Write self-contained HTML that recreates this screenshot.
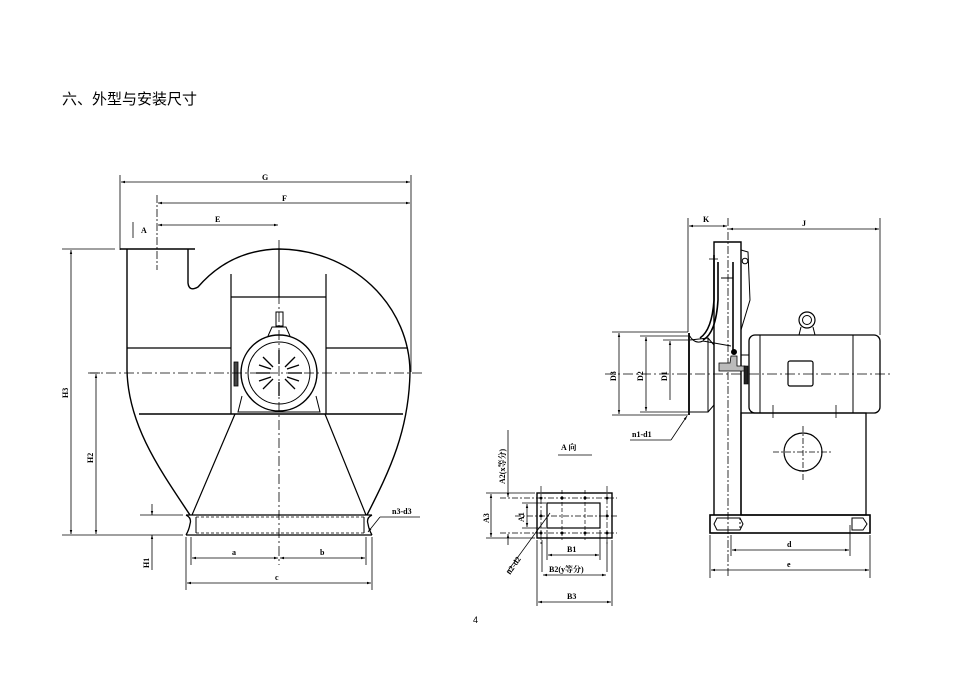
<!DOCTYPE html>
<html><head><meta charset="utf-8"><style>
html,body{margin:0;padding:0;background:#fff;}
svg{display:block}
text{font-family:"Liberation Serif","Noto Serif CJK SC",serif;font-weight:bold;font-size:8px;fill:#000}
.t{font-family:"Liberation Sans","Noto Sans CJK SC",sans-serif;font-weight:normal;font-size:15px}
</style></head><body>
<svg width="953" height="674" viewBox="0 0 953 674" xmlns="http://www.w3.org/2000/svg">
<defs>
<marker id="ar" viewBox="0 0 10 10" refX="10" refY="5" markerWidth="8" markerHeight="5" orient="auto-start-reverse"><path d="M0,2 L10,5 L0,8z" fill="#000"/></marker>
</defs>
<text class="t" x="62" y="104">六、外型与安装尺寸</text>
<text x="473" y="623" style="font-weight:normal;font-family:'Liberation Sans';font-size:9px">4</text>

<g stroke="#000" fill="none" stroke-width="1">
<!-- LEFT VIEW -->
<line x1="120" y1="175" x2="120" y2="250" stroke-width=".8"/>
<line x1="411" y1="175" x2="411" y2="372" stroke-width=".8"/>
<line x1="121" y1="182" x2="410" y2="182" marker-start="url(#ar)" marker-end="url(#ar)" stroke-width=".8"/>
<line x1="158" y1="203" x2="410" y2="203" marker-start="url(#ar)" marker-end="url(#ar)" stroke-width=".8"/>
<line x1="158" y1="225" x2="278" y2="225" marker-start="url(#ar)" marker-end="url(#ar)" stroke-width=".8"/>
<line x1="157" y1="195" x2="157" y2="270" stroke-dasharray="8,2,2,2" stroke-width=".8"/>
<line x1="133" y1="222" x2="133" y2="238" stroke-width=".8"/>
<line x1="120" y1="249" x2="195" y2="249" stroke-width="1.6"/>
<path d="M127,249 L127,370 C128,425 160,470 190,515" stroke-width="1.4"/>
<path d="M188,249 L188,283 Q189,292 198,287 Q230,250 279,249 A132,124 0 0 1 410,372 C409,430 390,470 367,515" stroke-width="1.4"/>
<line x1="279" y1="249" x2="279" y2="297" stroke-width="1.2"/>
<line x1="231" y1="274" x2="231" y2="414" stroke-width="1.2"/>
<line x1="326" y1="274" x2="326" y2="414" stroke-width="1.2"/>
<line x1="231" y1="297" x2="326" y2="297" stroke-width="1.2"/>
<line x1="127" y1="348" x2="231" y2="348" stroke-width="1.2"/>
<line x1="326" y1="348" x2="408" y2="348" stroke-width="1.2"/>
<line x1="139" y1="414" x2="403" y2="414" stroke-width="1.4"/>
<line x1="235" y1="414" x2="192" y2="515" stroke-width="1.2"/>
<line x1="325" y1="414" x2="366" y2="515" stroke-width="1.2"/>
<rect x="276" y="312" width="7" height="14"/>
<path d="M268,336 L272,327 L286,327 L290,336"/>
<circle cx="279" cy="373" r="38" stroke-width="1.4"/>
<circle cx="279" cy="373" r="31"/>
<path d="M242,396 L238,412 L320,412 L316,396"/>
<rect x="234" y="362" width="4" height="24" fill="#444" stroke-width=".8"/>
<g stroke-width="1.3">
<line x1="279" y1="350" x2="279" y2="364"/><line x1="279" y1="382" x2="279" y2="396"/>
<line x1="256" y1="373" x2="270" y2="373"/><line x1="288" y1="373" x2="302" y2="373"/>
<line x1="263" y1="357" x2="273" y2="367"/><line x1="285" y1="379" x2="295" y2="389"/>
<line x1="295" y1="357" x2="285" y2="367"/><line x1="273" y1="379" x2="263" y2="389"/>
<line x1="259" y1="365" x2="271" y2="369"/><line x1="287" y1="377" x2="299" y2="381"/>
<line x1="299" y1="365" x2="287" y2="369"/><line x1="271" y1="377" x2="259" y2="381"/>
</g>
<path d="M186,515 L372,515 M186,535 L372,535 M186,515 Q192,518 190,524 Q189,530 186,535 M372,515 Q366,518 368,524 Q369,530 372,535" stroke-width="1.3"/>
<line x1="196" y1="517" x2="196" y2="533"/><line x1="364" y1="517" x2="364" y2="533"/>
<line x1="196" y1="517" x2="364" y2="517" stroke-dasharray="3,2" stroke-width=".8"/>
<line x1="196" y1="533" x2="364" y2="533" stroke-dasharray="3,2" stroke-width=".8"/>
<line x1="88" y1="373" x2="425" y2="373" stroke-dasharray="10,3,2,3" stroke-width=".8"/>
<line x1="279" y1="240" x2="279" y2="565" stroke-dasharray="10,3,2,3" stroke-width=".8"/>
<line x1="62" y1="249" x2="115" y2="249" stroke-width=".8"/>
<line x1="62" y1="535" x2="183" y2="535" stroke-width=".8"/>
<line x1="90" y1="373" x2="100" y2="373" stroke-width=".8"/>
<line x1="140" y1="515" x2="183" y2="515" stroke-width=".8"/>
<line x1="71" y1="250" x2="71" y2="534" marker-start="url(#ar)" marker-end="url(#ar)" stroke-width=".8"/>
<line x1="96" y1="374" x2="96" y2="534" marker-start="url(#ar)" marker-end="url(#ar)" stroke-width=".8"/>
<line x1="152" y1="504" x2="152" y2="515" marker-end="url(#ar)" stroke-width=".8"/>
<line x1="152" y1="548" x2="152" y2="535" marker-end="url(#ar)" stroke-width=".8"/>
<line x1="152" y1="548" x2="152" y2="570" stroke-width=".8"/>
<line x1="186" y1="537" x2="186" y2="590" stroke-width=".8"/>
<line x1="191" y1="537" x2="191" y2="565" stroke-width=".8"/>
<line x1="366" y1="537" x2="366" y2="565" stroke-width=".8"/>
<line x1="372" y1="537" x2="372" y2="590" stroke-width=".8"/>
<line x1="192" y1="558" x2="278" y2="558" marker-start="url(#ar)" marker-end="url(#ar)" stroke-width=".8"/>
<line x1="280" y1="558" x2="365" y2="558" marker-start="url(#ar)" marker-end="url(#ar)" stroke-width=".8"/>
<line x1="187" y1="583" x2="371" y2="583" marker-start="url(#ar)" marker-end="url(#ar)" stroke-width=".8"/>
<line x1="420" y1="517" x2="380" y2="517" stroke-width=".8"/>
<line x1="380" y1="517" x2="368" y2="532" marker-end="url(#ar)" stroke-width=".8"/>

<!-- RIGHT VIEW -->
<line x1="688" y1="218" x2="688" y2="332" stroke-width=".8"/>
<line x1="880" y1="218" x2="880" y2="335" stroke-width=".8"/>
<line x1="689" y1="226" x2="727" y2="226" marker-start="url(#ar)" marker-end="url(#ar)" stroke-width=".8"/>
<line x1="729" y1="229" x2="879" y2="229" marker-start="url(#ar)" marker-end="url(#ar)" stroke-width=".8"/>
<line x1="728" y1="218" x2="728" y2="578" stroke-dasharray="8,2,2,2" stroke-width=".8"/>
<line x1="605" y1="374" x2="893" y2="374" stroke-dasharray="10,3,2,3" stroke-width=".8"/>
<path d="M714,515 L714,242 L741,242 L741,515" stroke-width="1.4"/>
<line x1="709" y1="259" x2="718" y2="259" stroke-width=".8"/>
<path d="M714,255 L714,300 Q712,330 700,338 M718,262 L718,300 Q716,333 703,340" stroke-width="1.6"/>
<line x1="733" y1="262" x2="733" y2="352" stroke-width="1.6"/>
<line x1="721" y1="278" x2="733" y2="278"/>
<path d="M741,250 L748,252 L750,300 L741,330"/>
<circle cx="745" cy="261" r="2.8"/>
<path d="M689,335 Q695,345 703,341 L731,346"/>
<path d="M719,369 L719,363 L730,363 L731,356 L737,356 L737,366 L745,366 L745,371 L719,371 Z" fill="#bbb" stroke-width=".8"/>
<circle cx="734" cy="352" r="2.5" fill="#000"/>
<line x1="689" y1="333" x2="689" y2="415" stroke-width="1.8"/>
<path d="M690,340 L708,338 L708,412 L690,412"/>
<path d="M708,338 L714,345 M708,412 L714,405"/>
<line x1="741" y1="355" x2="749" y2="355"/>
<rect x="744" y="366" width="4" height="18" fill="#222" stroke-width=".6"/>
<rect x="749" y="335" width="131" height="78" rx="6" stroke-width="1.3"/>
<line x1="760" y1="335" x2="760" y2="413"/>
<line x1="853" y1="335" x2="853" y2="413"/>
<rect x="788" y="361" width="25" height="25" rx="2" stroke-width="1.2"/>
<circle cx="807" cy="320" r="8" stroke-width="1.2"/><circle cx="807" cy="320" r="4.5"/>
<path d="M799,335 L801,327 M815,335 L813,327"/>
<line x1="773" y1="405" x2="773" y2="418" stroke-width=".8"/>
<line x1="836" y1="405" x2="836" y2="418" stroke-width=".8"/>
<rect x="741" y="413" width="125" height="102" stroke-width="1.3"/>
<circle cx="803" cy="452" r="19" stroke-width="1.2"/>
<line x1="773" y1="452" x2="833" y2="452" stroke-dasharray="6,2,2,2" stroke-width=".8"/>
<line x1="803" y1="426" x2="803" y2="480" stroke-dasharray="6,2,2,2" stroke-width=".8"/>
<rect x="710" y="515" width="160" height="18" stroke-width="1.6"/>
<path d="M717,518 L740,518 L743,524 L740,530 L717,530 L714,524 Z"/>
<path d="M863,518 L852,518 L852,530 L863,530 L867,524 Z"/>
<line x1="740" y1="518" x2="740" y2="530" stroke-dasharray="2,2"/>
<line x1="710" y1="535" x2="710" y2="578" stroke-width=".8"/>
<line x1="870" y1="535" x2="870" y2="578" stroke-width=".8"/>
<line x1="731" y1="535" x2="731" y2="556" stroke-width=".8"/>
<line x1="850" y1="525" x2="850" y2="556" stroke-width=".8"/>
<line x1="732" y1="550" x2="849" y2="550" marker-start="url(#ar)" marker-end="url(#ar)" stroke-width=".8"/>
<line x1="711" y1="570" x2="869" y2="570" marker-start="url(#ar)" marker-end="url(#ar)" stroke-width=".8"/>
<line x1="612" y1="332" x2="688" y2="332" stroke-width=".8"/>
<line x1="612" y1="415" x2="688" y2="415" stroke-width=".8"/>
<line x1="640" y1="336" x2="688" y2="336" stroke-width=".8"/>
<line x1="640" y1="412" x2="688" y2="412" stroke-width=".8"/>
<line x1="663" y1="340" x2="688" y2="340" stroke-width=".8"/>
<line x1="619" y1="333" x2="619" y2="414" marker-start="url(#ar)" marker-end="url(#ar)" stroke-width=".8"/>
<line x1="646" y1="337" x2="646" y2="411" marker-start="url(#ar)" marker-end="url(#ar)" stroke-width=".8"/>
<line x1="670" y1="341" x2="670" y2="400" marker-start="url(#ar)" stroke-width=".8"/>
<line x1="630" y1="440" x2="671" y2="440" stroke-width=".8"/>
<line x1="671" y1="440" x2="687" y2="416" marker-end="url(#ar)" stroke-width=".8"/>

<!-- A VIEW -->
<line x1="558" y1="455" x2="592" y2="455" stroke-width=".8"/>
<rect x="537" y="493" width="75" height="45" stroke-width="1.4"/>
<rect x="547" y="503" width="53" height="25" stroke-width="1.2"/>
<line x1="500" y1="498" x2="617" y2="498" stroke-dasharray="6,2,2,2" stroke-width=".7"/>
<line x1="515" y1="516" x2="617" y2="516" stroke-dasharray="6,2,2,2" stroke-width=".7"/>
<line x1="500" y1="533" x2="617" y2="533" stroke-dasharray="6,2,2,2" stroke-width=".7"/>
<line x1="541" y1="486" x2="541" y2="545" stroke-dasharray="6,2,2,2" stroke-width=".7"/>
<line x1="562" y1="490" x2="562" y2="540" stroke-dasharray="4,2" stroke-width=".7"/>
<line x1="585" y1="490" x2="585" y2="540" stroke-dasharray="4,2" stroke-width=".7"/>
<line x1="607" y1="486" x2="607" y2="545" stroke-dasharray="6,2,2,2" stroke-width=".7"/>
<g fill="#000" stroke="none">
<circle cx="541" cy="498" r="1.5"/><circle cx="562" cy="498" r="1.5"/><circle cx="585" cy="498" r="1.5"/><circle cx="607" cy="498" r="1.5"/>
<circle cx="541" cy="533" r="1.5"/><circle cx="562" cy="533" r="1.5"/><circle cx="585" cy="533" r="1.5"/><circle cx="607" cy="533" r="1.5"/>
<circle cx="541" cy="516" r="1.5"/><circle cx="607" cy="516" r="1.5"/>
</g>
<line x1="508" y1="430" x2="508" y2="497" marker-end="url(#ar)" stroke-width=".8"/>
<line x1="508" y1="545" x2="508" y2="534" marker-end="url(#ar)" stroke-width=".8"/>
<line x1="486" y1="493" x2="535" y2="493" stroke-width=".8"/>
<line x1="486" y1="538" x2="535" y2="538" stroke-width=".8"/>
<line x1="491" y1="494" x2="491" y2="537" marker-start="url(#ar)" marker-end="url(#ar)" stroke-width=".8"/>
<line x1="522" y1="503" x2="546" y2="503" stroke-width=".8"/>
<line x1="522" y1="528" x2="546" y2="528" stroke-width=".8"/>
<line x1="527" y1="504" x2="527" y2="527" marker-start="url(#ar)" marker-end="url(#ar)" stroke-width=".8"/>
<line x1="507" y1="572" x2="550" y2="513" stroke-width=".8"/>
<line x1="547" y1="530" x2="547" y2="560" stroke-width=".8"/>
<line x1="600" y1="530" x2="600" y2="560" stroke-width=".8"/>
<line x1="542" y1="540" x2="542" y2="572" stroke-width=".8"/>
<line x1="607" y1="540" x2="607" y2="572" stroke-width=".8"/>
<line x1="537" y1="540" x2="537" y2="606" stroke-width=".8"/>
<line x1="612" y1="540" x2="612" y2="606" stroke-width=".8"/>
<line x1="548" y1="555" x2="599" y2="555" marker-start="url(#ar)" marker-end="url(#ar)" stroke-width=".8"/>
<line x1="543" y1="575" x2="606" y2="575" marker-start="url(#ar)" marker-end="url(#ar)" stroke-width=".8"/>
<line x1="538" y1="602" x2="611" y2="602" marker-start="url(#ar)" marker-end="url(#ar)" stroke-width=".8"/>
</g>

<text x="262" y="180">G</text>
<text x="282" y="201">F</text>
<text x="215" y="222">E</text>
<text x="141" y="233">A</text>
<text transform="translate(68,398) rotate(-90)">H3</text>
<text transform="translate(93,463) rotate(-90)">H2</text>
<text transform="translate(149,568) rotate(-90)">H1</text>
<text x="232" y="555">a</text>
<text x="320" y="555">b</text>
<text x="275" y="580">c</text>
<text x="392" y="514">n3-d3</text>
<text x="703" y="222">K</text>
<text x="802" y="226">J</text>
<text transform="translate(616,381) rotate(-90)">D3</text>
<text transform="translate(643,381) rotate(-90)">D2</text>
<text transform="translate(667,381) rotate(-90)">D1</text>
<text x="632" y="437">n1-d1</text>
<text x="787" y="547">d</text>
<text x="787" y="567">e</text>
<text x="561" y="450">A 向</text>
<text transform="translate(505,484) rotate(-90)">A2(x等分)</text>
<text transform="translate(489,523) rotate(-90)">A3</text>
<text transform="translate(524,522) rotate(-90)">A1</text>
<text transform="translate(510,575) rotate(-55)">n2-d2</text>
<text x="567" y="552">B1</text>
<text x="549" y="572">B2(y等分)</text>
<text x="567" y="599">B3</text>
</svg>
</body></html>
